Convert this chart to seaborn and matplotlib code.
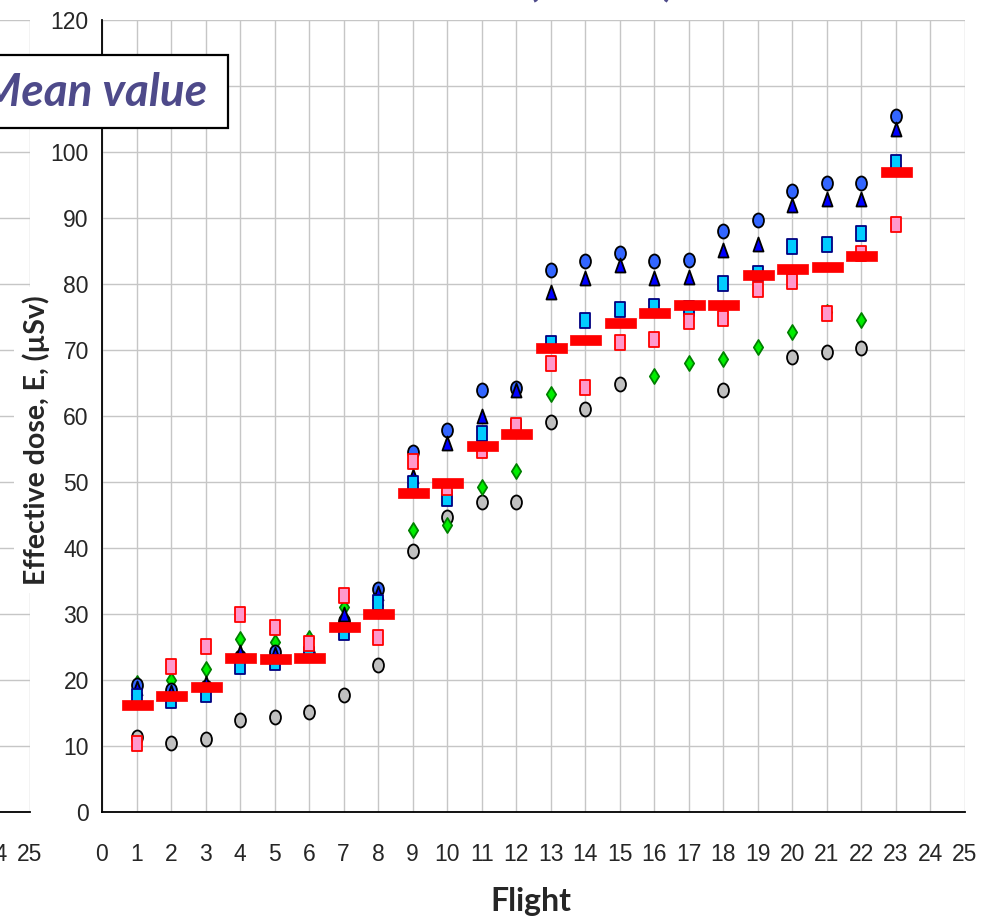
import numpy as np
import pandas as pd
import matplotlib
matplotlib.use("Agg")
import matplotlib.pyplot as plt
import seaborn as sns
from matplotlib.path import Path
from matplotlib.transforms import Affine2D
from matplotlib.patches import Rectangle

# ---------------- data ----------------
flights = list(range(1, 24))
nan = np.nan
gray_circle = [11.4, 10.5, 11.0, 14.0, 14.4, 15.1, 17.7, 22.3, 39.5, 44.7, 47.0, 47.0,
               59.1, 61.1, 64.8, nan, nan, 64.0, nan, 69.0, 69.7, 70.3, nan]
green_diamond = [19.5, 20.0, 21.7, 26.2, 25.8, 26.4, 31.1, 31.4, 42.7, 43.5, 49.3, 51.7,
                 63.3, nan, nan, 66.1, 68.1, 68.6, 70.4, 72.7, 75.8, 74.5, nan]
blue_circle = [19.2, 18.5, 19.0, 23.5, 24.2, 24.0, 29.0, 33.8, 54.5, 57.9, 63.9, 64.3,
               82.1, 83.5, 84.7, 83.5, 83.6, 88.1, 89.7, 94.1, 95.3, 95.3, 105.5]
blue_triangle = [18.8, 18.2, 19.5, 24.2, 24.0, 24.0, 30.0, 33.2, 50.9, 55.9, 60.0, 63.9,
                 78.8, 80.9, 82.9, 80.9, 81.0, 85.1, 86.0, 92.0, 92.9, 92.9, 103.5]
cyan_square = [17.6, 17.0, 17.9, 22.1, 22.7, 24.0, 27.3, 31.8, 49.8, 47.6, 57.4, 58.4,
               71.0, 74.5, 76.2, 76.6, 76.3, 80.2, 81.6, 85.8, 86.0, 87.8, 98.5]
pink_square = [10.5, 22.1, 25.2, 30.0, 28.0, 25.6, 32.9, 26.5, 53.2, 49.2, 54.8, 58.6,
               68.0, 64.4, 71.2, 71.7, 74.4, 74.9, 79.3, 80.4, 75.6, 84.7, 89.1]
mean_value = [16.2, 17.6, 19.0, 23.4, 23.2, 23.4, 28.0, 30.0, 48.3, 49.9, 55.5, 57.3,
              70.3, 71.5, 74.1, 75.6, 76.8, 76.8, 81.3, 82.3, 82.6, 84.3, 97.0]

x_ticks = list(range(0, 26))
y_ticks = list(range(0, 121, 10))

# ---------------- markers ----------------
def ellipse(aspect):
    return Path.unit_circle().transformed(Affine2D().scale(aspect, 1.0))

def rect(aspect):
    return Path([(-aspect, -1), (aspect, -1), (aspect, 1), (-aspect, 1), (-aspect, -1)],
                [Path.MOVETO, Path.LINETO, Path.LINETO, Path.LINETO, Path.CLOSEPOLY])

def tri(aspect):
    return Path([(-aspect, -1), (aspect, -1), (0, 1), (-aspect, -1)],
                [Path.MOVETO, Path.LINETO, Path.LINETO, Path.CLOSEPOLY])

def diamond(aspect):
    return Path([(0, -1), (aspect, 0), (0, 1), (-aspect, 0), (0, -1)],
                [Path.MOVETO, Path.LINETO, Path.LINETO, Path.LINETO, Path.CLOSEPOLY])

def hbar(h):
    return Path([(-1, -h), (1, -h), (1, h), (-1, h), (-1, -h)],
                [Path.MOVETO, Path.LINETO, Path.LINETO, Path.LINETO, Path.CLOSEPOLY])

PX = 0.72  # px -> pt at dpi 100

sns.set_style("white")
plt.rcParams["font.family"] = ["Liberation Sans Narrow", "Liberation Sans", "DejaVu Sans"]

fig = plt.figure(figsize=(9.92, 9.19), dpi=100)
W, H = 992.0, 919.0
ax_l, ax_r, ax_t, ax_b = 102, 965, 20, 812
aw = (ax_r - ax_l) / W
ah = (ax_b - ax_t) / H
bottom = 1 - ax_b / H

grid_col = "#c6c6c6"

def style_axes(ax, ghost=False):
    ax.set_xlim(0, 25)
    ax.set_ylim(0, 120)
    ax.set_xticks(x_ticks)
    if ghost:
        ax.set_xticklabels([str(v) if v >= 24 else "" for v in x_ticks])
        ax.set_yticks(y_ticks)
        ax.set_yticklabels([])
        ax.tick_params(axis="y", left=False)
    else:
        ax.set_xticklabels([str(v) for v in x_ticks])
        ax.set_yticks(y_ticks)
        ax.set_yticklabels([str(v) for v in y_ticks])
        ax.set_yticks(list(range(5, 120, 10)), minor=True)
        ax.tick_params(axis="y", which="both", direction="inout", length=7, width=1,
                       color="black", labelsize=16.5, pad=6)
    ax.grid(True, which="major", color=grid_col, lw=1.0)
    ax.set_axisbelow(True)
    for s in ["top", "right"]:
        ax.spines[s].set_visible(False)
    ax.spines["left"].set_color("black")
    ax.spines["bottom"].set_color("black")
    ax.spines["left"].set_linewidth(1.3)
    ax.spines["bottom"].set_linewidth(1.3)
    ax.tick_params(axis="x", which="major", direction="out", length=5, width=1,
                   color="black", labelsize=16.5, pad=17)
    ax.set_xlabel("")
    ax.set_ylabel("")

# ghost chart on the left (only its right edge is visible)
ax0 = fig.add_axes([(30 - (ax_r - ax_l)) / W, bottom, aw, ah])
style_axes(ax0, ghost=True)

ax = fig.add_axes([ax_l / W, bottom, aw, ah])
style_axes(ax)

series = [
    (gray_circle, ellipse(0.78), 14, "#c0c0c0", "black"),
    (green_diamond, diamond(0.62), 15, "#00ee00", "#008000"),
    (blue_circle, ellipse(0.78), 14, "#3366ff", "black"),
    (blue_triangle, tri(0.72), 14, "#0000ff", "black"),
    (cyan_square, rect(0.68), 15, "#00ccff", "#000080"),
    (pink_square, rect(0.68), 15, "#ff99cc", "#ff0000"),
]
for vals, mk, hpx, fc, ec in series:
    df = pd.DataFrame({"Flight": flights, "E": vals})
    sns.scatterplot(data=df, x="Flight", y="E", ax=ax, marker=mk, s=(hpx * PX) ** 2,
                    color=fc, edgecolor=ec, linewidth=1.3, zorder=3, legend=False)

dfm = pd.DataFrame({"Flight": flights, "E": mean_value})
sns.scatterplot(data=dfm, x="Flight", y="E", ax=ax, marker=hbar(0.33), s=(31 * PX) ** 2,
                color="#ff0000", edgecolor="#ff0000", linewidth=0.5, zorder=4, legend=False)
ax.set_xlabel("")
ax.set_ylabel("")

# axis titles
fig.text(531 / W, 1 - 902 / H, "Flight", ha="center", va="center",
         fontsize=23, fontweight="bold", family=["Lato", "DejaVu Sans"])
fig.text(36 / W, 1 - 440 / H, "Effective dose, E, (µSv)", rotation=90,
         ha="center", va="center", fontsize=20.5, fontweight="bold",
         family=["Lato", "DejaVu Sans"],
         bbox=dict(facecolor="white", edgecolor="none", pad=6))

# "Mean value" box
fig.add_artist(Rectangle((-10 / W, 1 - 128 / H), 238 / W, 73 / H,
                         transform=fig.transFigure, facecolor="white",
                         edgecolor="black", lw=1.6, zorder=10))
fig.text(207 / W, 1 - 93 / H, "Mean value", ha="right", va="center",
         fontsize=33, fontweight="bold", style="italic", color="#4e4a8a",
         family=["Lato", "DejaVu Sans"], zorder=11)

# fragments of the slide title above
for xp, ch in [(535, "("), (670, ")")]:
    fig.text(xp / W, 1.005, ch, ha="center", va="baseline", fontsize=30,
             fontweight="bold", style="italic", color="#4e4a8a",
             family=["Lato", "DejaVu Sans"])

fig.savefig("out.png", dpi=100)
